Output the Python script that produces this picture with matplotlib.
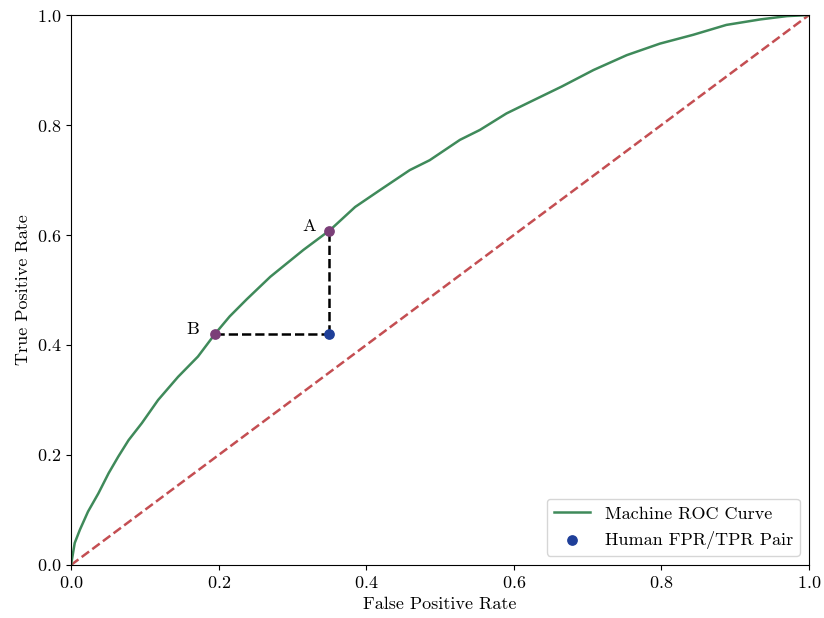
import numpy as np
import matplotlib
matplotlib.use("Agg")
import matplotlib.pyplot as plt

plt.rcParams['font.family'] = 'serif'
plt.rcParams['font.serif'] = ['cmr10']
plt.rcParams['mathtext.fontset'] = 'cm'
plt.rcParams['axes.formatter.use_mathtext'] = True

# machine ROC curve
fpr = [0.0, 0.005, 0.012, 0.023, 0.037, 0.051, 0.064, 0.078, 0.096, 0.118, 0.145,
       0.172, 0.195, 0.215, 0.238, 0.270, 0.315, 0.351, 0.385, 0.419, 0.459, 0.486, 0.527,
       0.554, 0.590, 0.622, 0.665, 0.708, 0.753, 0.798, 0.843, 0.888, 0.934, 0.970, 1.0]
tpr = [0.0, 0.040, 0.064, 0.097, 0.130, 0.167, 0.197, 0.227, 0.258, 0.300, 0.342,
       0.379, 0.420, 0.452, 0.483, 0.524, 0.573, 0.609, 0.651, 0.682, 0.718, 0.736, 0.773,
       0.791, 0.821, 0.842, 0.870, 0.900, 0.927, 0.948, 0.964, 0.982, 0.992, 0.998, 1.0]

# human operating point and the matching machine points
human_fpr, human_tpr = 0.35, 0.42
point_a = (0.35, 0.607)
point_b = (0.195, 0.42)

fig, ax = plt.subplots(figsize=(8.24, 6.18), dpi=100)
fig.subplots_adjust(left=0.0862, right=0.9818, bottom=0.0858, top=0.9757)

ax.plot(fpr, tpr, color='#3f8a5a', lw=1.8, label='Machine ROC Curve', zorder=2)
ax.plot([0, 1], [0, 1], color='#c44e52', lw=1.8, ls='--', zorder=1)

ax.plot([point_b[0], human_fpr], [human_tpr, human_tpr], color='black', lw=1.8, ls='--', zorder=3)
ax.plot([human_fpr, human_fpr], [human_tpr, point_a[1]], color='black', lw=1.8, ls='--', zorder=3)

ax.scatter([point_a[0], point_b[0]], [point_a[1], point_b[1]], color='#7b3f78', s=45, zorder=4)
ax.scatter([human_fpr], [human_tpr], color='#1f3f99', s=45, zorder=5, label='Human FPR/TPR Pair')

ax.text(point_a[0] - 0.018, point_a[1] + 0.008, 'A', fontsize=13, ha='right', va='center')
ax.text(point_b[0] - 0.022, point_b[1] + 0.008, 'B', fontsize=13, ha='right', va='center')

ax.set_xlim(0, 1)
ax.set_ylim(0, 1)
ax.set_xlabel('False Positive Rate', fontsize=13)
ax.set_ylabel('True Positive Rate', fontsize=13)
ax.tick_params(labelsize=13)
ax.legend(loc='lower right', fontsize=13)

fig.savefig('out.png', dpi=100)
